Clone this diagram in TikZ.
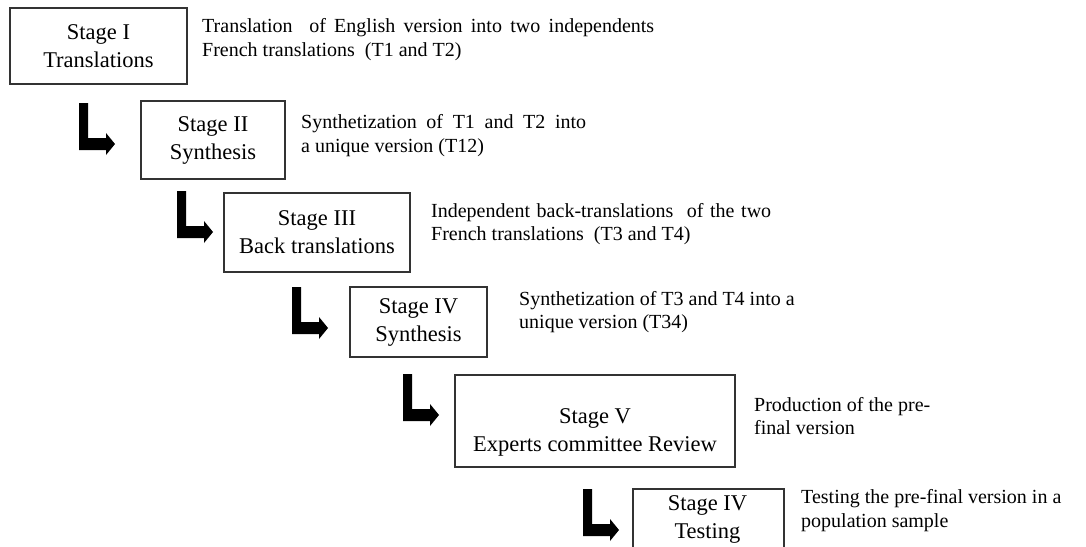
\documentclass[tikz,border=0pt]{standalone}
\usepackage{fontspec}
\setmainfont{Liberation Serif}
\begin{document}
\begin{tikzpicture}[x=1pt,y=-1pt,
  stagebox/.style={draw=black!80, line width=1.1pt, inner sep=0pt, align=center,
    font=\fontsize{22.5}{28}\selectfont},
  boxonly/.style={draw=black!80, line width=1.1pt, inner sep=0pt},
  boxtext/.style={inner sep=0pt, align=center, font=\fontsize{22.5}{28}\selectfont},
  desc/.style={inner sep=0pt, align=left, anchor=base west, font=\fontsize{20}{23.5}\selectfont},
  larrow/.pic={\fill[black] (0,0) -- (9,0) -- (9,35) -- (27,35) -- (27,30) -- (36,41) -- (27,52) -- (27,47) -- (0,47) -- cycle;}
]
\useasboundingbox (0,0) rectangle (1086,546);
\begin{scope}
\clip (0,0) rectangle (1086,546);
% boxes
\node[stagebox, minimum width=177pt, minimum height=76pt] (b1) at (98.5,46) {Stage I\\Translations};
\node[stagebox, minimum width=144pt, minimum height=78pt] (b2) at (213,140) {Stage II\\Synthesis};
\node[stagebox, minimum width=186pt, minimum height=79pt] (b3) at (317,232.5) {Stage III\\Back translations};
\node[stagebox, minimum width=137pt, minimum height=70pt] (b4) at (418.5,322) {Stage IV\\Synthesis};
\node[boxonly, minimum width=280pt, minimum height=92pt] (b5) at (595,421) {};
\node[boxtext] (t5) at (595,432) {Stage V\\Experts committee Review};
\node[boxonly, minimum width=151pt, minimum height=90pt] (b6) at (708.5,534) {};
\node[boxtext] (t6) at (707.5,519) {Stage IV\\Testing};
% descriptions (anchor = baseline of the last line)
\node[desc] (d1) at (202,56) {\makebox[452pt][s]{Translation\ \ of English version into two independents}\\French translations\ \ (T1 and T2)};
\node[desc] (d2) at (301,152) {\makebox[285pt][s]{Synthetization of T1 and T2 into}\\a unique version (T12)};
\node[desc] (d3) at (431,240.5) {\makebox[340pt][s]{Independent back-translations\ \ of the two}\\French translations\ \ (T3 and T4)};
\node[desc] (d4) at (519,328.5) {Synthetization of T3 and T4 into a\\unique version (T34)};
\node[desc] (d5) at (754,434.5) {Production of the pre-\\final version};
\node[desc] (d6) at (801,527) {Testing the pre-final version in a\\population sample};
% arrows
\pic at (79,103) {larrow};
\pic at (177,191) {larrow};
\pic at (292,287) {larrow};
\pic at (403,374) {larrow};
\pic at (583,489) {larrow};
\end{scope}
\end{tikzpicture}
\end{document}
